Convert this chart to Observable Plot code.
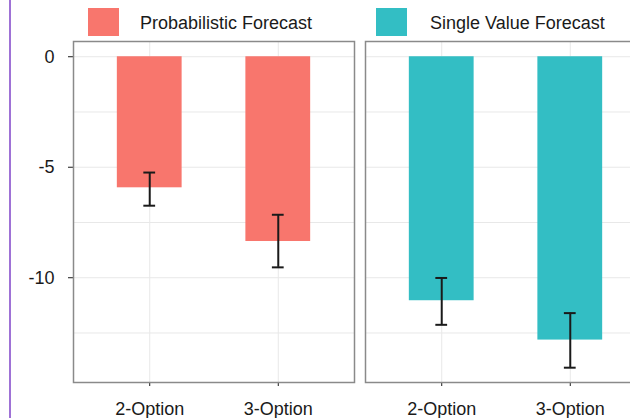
<!DOCTYPE html>
<html>
<head>
<meta charset="utf-8">
<script src="https://cdn.jsdelivr.net/npm/d3@7"></script>
<script src="https://cdn.jsdelivr.net/npm/@observablehq/plot@0.6"></script>
<style>
  html, body { margin: 0; padding: 0; background: #fff; }
  body { width: 630px; height: 418px; overflow: hidden; position: relative; font-family: "Liberation Sans", Arial, Helvetica, sans-serif; }
  #purple { position: absolute; left: 9px; top: 0; width: 2px; height: 418px; background: #9f72d6; z-index: 5; }
  #legend { position: relative; height: 36px; width: 630px; }
  .sw { position: absolute; top: 8px; width: 31px; height: 28px; }
  .lt { position: absolute; top: 14px; font-size: 18px; line-height: 18px; color: #1a1a1a; white-space: nowrap; }
  #chart { width: 630px; height: 382px; overflow: hidden; }
  #chart svg g[aria-label="y-axis"] path, #chart svg g[aria-label="y-axis"] line,
  #chart svg g[aria-label="x-axis"] path, #chart svg g[aria-label="x-axis"] line { stroke: #8c8c8c; }
  #chart svg g[aria-label="y-axis"] text { font-size: 19px; }
</style>
</head>
<body>
<div id="purple"></div>
<div id="legend"></div>
<div id="chart"></div>
<script>
// ---- data ----
const forecasts = ["Probabilistic Forecast", "Single Value Forecast"];
const colors = ["#F8766D", "#33BEC4"];
const options = ["2-Option", "3-Option"];
const probValues = [-5.93, -8.36];
const probLow = [-6.74, -9.53];
const probHigh = [-5.24, -7.15];
const singleValues = [-11.04, -12.82];
const singleLow = [-12.13, -14.07];
const singleHigh = [-10.01, -11.6];
const yTicks = [0, -5, -10];
const gridValues = [0, -2.5, -5, -7.5, -10, -12.5];

const rows = [];
options.forEach((o, i) => {
  rows.push({forecast: forecasts[0], option: o, value: probValues[i], lo: probLow[i], hi: probHigh[i]});
});
options.forEach((o, i) => {
  rows.push({forecast: forecasts[1], option: o, value: singleValues[i], lo: singleLow[i], hi: singleHigh[i]});
});

// ---- legend ----
const legend = document.getElementById("legend");
const legendPos = [{sw: 88, tx: 140}, {sw: 376, tx: 430}];
forecasts.forEach((f, i) => {
  const s = document.createElement("div");
  s.className = "sw"; s.style.left = legendPos[i].sw + "px"; s.style.background = colors[i];
  legend.appendChild(s);
  const t = document.createElement("div");
  t.className = "lt"; t.style.left = legendPos[i].tx + "px"; t.textContent = f;
  legend.appendChild(t);
});

// ---- chart ----
const chart = Plot.plot({
  width: 660,
  height: 382,
  marginTop: 5,
  marginBottom: 36,
  marginLeft: 72,
  marginRight: 13,
  style: {
    fontSize: "18px",
    fontFamily: "'Liberation Sans', Arial, Helvetica, sans-serif",
    color: "#1a1a1a",
    background: "white",
    maxWidth: "none",
    overflow: "hidden"
  },
  fx: {domain: forecasts, axis: null, paddingInner: 0.0375, paddingOuter: 0},
  x: {domain: options, paddingInner: 0.496, paddingOuter: 0.341, round: false, label: null, tickSize: 4, tickPadding: 16},
  y: {domain: [-14.74, 0.69], ticks: yTicks, tickFormat: d => String(d), tickSize: 5, tickPadding: 14, label: null},
  color: {domain: forecasts, range: colors},
  marks: [
    Plot.ruleY(gridValues, {fx: () => forecasts[0], stroke: "#e8e8e8", strokeWidth: 1}),
    Plot.ruleY(gridValues, {fx: () => forecasts[1], stroke: "#e8e8e8", strokeWidth: 1}),
    Plot.ruleX(rows, {fx: "forecast", x: "option", stroke: "#e8e8e8", strokeWidth: 1}),
    Plot.barY(rows, {fx: "forecast", x: "option", y: "value", fill: "forecast"}),
    Plot.ruleX(rows, {fx: "forecast", x: "option", y1: "lo", y2: "hi", stroke: "#1a1a1a", strokeWidth: 2}),
    Plot.tickY(rows, {fx: "forecast", x: "option", y: "lo", stroke: "#1a1a1a", strokeWidth: 2, insetLeft: 26.5, insetRight: 26.5}),
    Plot.tickY(rows, {fx: "forecast", x: "option", y: "hi", stroke: "#1a1a1a", strokeWidth: 2, insetLeft: 26.5, insetRight: 26.5}),
    Plot.frame({stroke: "#8a8a8a", strokeWidth: 1.5})
  ]
});
document.getElementById("chart").appendChild(chart);
</script>
</body>
</html>
